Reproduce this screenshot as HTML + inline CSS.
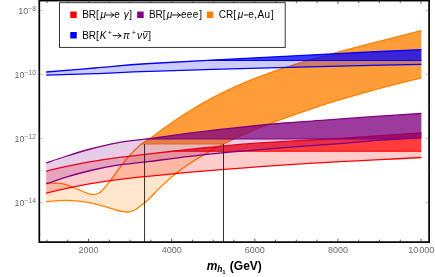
<!DOCTYPE html>
<html><head><meta charset="utf-8"><title>chart</title>
<style>
html,body{margin:0;padding:0;background:#fff;}
body{width:435px;height:277px;overflow:hidden;font-family:"Liberation Sans",sans-serif;}
svg{display:block;}
text{filter:grayscale(1);}
text{font-family:"Liberation Sans",sans-serif;}
.tl{font-size:9px;fill:#6a6a6a;}
.al{font-size:12px;font-weight:bold;fill:#000;}
.lg{font-size:10px;fill:#000;}
</style></head><body>
<svg width="435" height="277" viewBox="0 0 435 277">
<defs>
<clipPath id="c_orange"><rect x="0" y="0" width="435" height="144.00"/></clipPath>
<clipPath id="d_orange"><rect x="0" y="144.00" width="435" height="133.00"/></clipPath>
<clipPath id="c_purple"><rect x="0" y="0" width="435" height="139.00"/></clipPath>
<clipPath id="d_purple"><rect x="0" y="139.00" width="435" height="138.00"/></clipPath>
<clipPath id="c_red"><rect x="0" y="0" width="435" height="151.20"/></clipPath>
<clipPath id="d_red"><rect x="0" y="151.20" width="435" height="125.80"/></clipPath>
<clipPath id="c_blue"><rect x="0" y="0" width="435" height="60.40"/></clipPath>
<clipPath id="d_blue"><rect x="0" y="60.40" width="435" height="216.60"/></clipPath>
</defs>
<path d="M46.20 183.10 C47.83 183.13 52.82 183.08 56.00 183.30 C59.18 183.52 61.65 183.38 65.30 184.40 C68.95 185.42 74.45 188.00 77.90 189.40 C81.35 190.80 83.47 191.95 86.00 192.80 C88.53 193.65 91.10 194.38 93.10 194.50 C95.10 194.62 96.52 194.13 98.00 193.50 C99.48 192.87 100.28 192.43 102.00 190.70 C103.72 188.97 105.98 186.05 108.30 183.10 C110.62 180.15 113.38 176.37 115.90 173.00 C118.42 169.63 120.88 166.07 123.40 162.90 C125.92 159.73 128.47 156.75 131.00 154.00 C133.53 151.25 136.28 148.47 138.60 146.40 C140.92 144.33 143.00 142.92 144.90 141.60 C146.80 140.28 147.48 140.23 150.00 138.50 C152.52 136.77 155.83 134.20 160.00 131.20 C164.17 128.20 170.00 123.91 175.00 120.50 C180.00 117.09 184.17 114.28 190.00 110.72 C195.83 107.16 203.33 102.74 210.00 99.14 C216.67 95.54 222.50 92.58 230.00 89.13 C237.50 85.68 246.67 81.75 255.00 78.45 C263.33 75.16 270.83 72.45 280.00 69.36 C289.17 66.27 300.00 62.90 310.00 59.93 C320.00 56.96 330.00 54.24 340.00 51.53 C350.00 48.82 360.00 46.27 370.00 43.69 C380.00 41.10 391.43 38.22 400.00 36.02 C408.57 33.83 417.83 31.44 421.40 30.52 L421.40 77.90 C417.83 78.77 408.57 80.92 400.00 83.11 C391.43 85.30 380.00 88.25 370.00 91.02 C360.00 93.79 350.00 96.67 340.00 99.71 C330.00 102.75 320.00 105.91 310.00 109.26 C300.00 112.61 289.17 116.43 280.00 119.83 C270.83 123.23 263.33 126.17 255.00 129.67 C246.67 133.17 237.50 137.24 230.00 140.81 C222.50 144.38 216.67 147.36 210.00 151.11 C203.33 154.86 195.83 159.43 190.00 163.29 C184.17 167.15 180.00 170.22 175.00 174.27 C170.00 178.32 164.17 183.64 160.00 187.60 C155.83 191.56 152.72 195.37 150.00 198.00 C147.28 200.63 146.02 201.53 143.70 203.40 C141.38 205.27 138.22 207.88 136.10 209.20 C133.98 210.52 132.48 210.83 131.00 211.30 C129.52 211.77 128.53 211.95 127.20 212.00 C125.87 212.05 124.88 211.93 123.00 211.60 C121.12 211.27 119.20 210.90 115.90 210.00 C112.60 209.10 107.42 207.38 103.20 206.20 C98.98 205.02 94.82 203.75 90.60 202.90 C86.38 202.05 82.12 201.53 77.90 201.10 C73.68 200.67 70.58 200.22 65.30 200.30 C60.02 200.38 49.38 201.38 46.20 201.60 Z" fill="#ff8000" fill-opacity="0.2" stroke="none" clip-path="url(#d_orange)"/>
<path d="M46.20 183.10 C47.83 183.13 52.82 183.08 56.00 183.30 C59.18 183.52 61.65 183.38 65.30 184.40 C68.95 185.42 74.45 188.00 77.90 189.40 C81.35 190.80 83.47 191.95 86.00 192.80 C88.53 193.65 91.10 194.38 93.10 194.50 C95.10 194.62 96.52 194.13 98.00 193.50 C99.48 192.87 100.28 192.43 102.00 190.70 C103.72 188.97 105.98 186.05 108.30 183.10 C110.62 180.15 113.38 176.37 115.90 173.00 C118.42 169.63 120.88 166.07 123.40 162.90 C125.92 159.73 128.47 156.75 131.00 154.00 C133.53 151.25 136.28 148.47 138.60 146.40 C140.92 144.33 143.00 142.92 144.90 141.60 C146.80 140.28 147.48 140.23 150.00 138.50 C152.52 136.77 155.83 134.20 160.00 131.20 C164.17 128.20 170.00 123.91 175.00 120.50 C180.00 117.09 184.17 114.28 190.00 110.72 C195.83 107.16 203.33 102.74 210.00 99.14 C216.67 95.54 222.50 92.58 230.00 89.13 C237.50 85.68 246.67 81.75 255.00 78.45 C263.33 75.16 270.83 72.45 280.00 69.36 C289.17 66.27 300.00 62.90 310.00 59.93 C320.00 56.96 330.00 54.24 340.00 51.53 C350.00 48.82 360.00 46.27 370.00 43.69 C380.00 41.10 391.43 38.22 400.00 36.02 C408.57 33.83 417.83 31.44 421.40 30.52 L421.40 77.90 C417.83 78.77 408.57 80.92 400.00 83.11 C391.43 85.30 380.00 88.25 370.00 91.02 C360.00 93.79 350.00 96.67 340.00 99.71 C330.00 102.75 320.00 105.91 310.00 109.26 C300.00 112.61 289.17 116.43 280.00 119.83 C270.83 123.23 263.33 126.17 255.00 129.67 C246.67 133.17 237.50 137.24 230.00 140.81 C222.50 144.38 216.67 147.36 210.00 151.11 C203.33 154.86 195.83 159.43 190.00 163.29 C184.17 167.15 180.00 170.22 175.00 174.27 C170.00 178.32 164.17 183.64 160.00 187.60 C155.83 191.56 152.72 195.37 150.00 198.00 C147.28 200.63 146.02 201.53 143.70 203.40 C141.38 205.27 138.22 207.88 136.10 209.20 C133.98 210.52 132.48 210.83 131.00 211.30 C129.52 211.77 128.53 211.95 127.20 212.00 C125.87 212.05 124.88 211.93 123.00 211.60 C121.12 211.27 119.20 210.90 115.90 210.00 C112.60 209.10 107.42 207.38 103.20 206.20 C98.98 205.02 94.82 203.75 90.60 202.90 C86.38 202.05 82.12 201.53 77.90 201.10 C73.68 200.67 70.58 200.22 65.30 200.30 C60.02 200.38 49.38 201.38 46.20 201.60 Z" fill="#ff8000" fill-opacity="0.77" stroke="none" clip-path="url(#c_orange)"/>
<path d="M141.75 144.00H223.81" fill="none" stroke="#ff8000" stroke-width="1.04"/>
<path d="M46.20 183.10 C47.83 183.13 52.82 183.08 56.00 183.30 C59.18 183.52 61.65 183.38 65.30 184.40 C68.95 185.42 74.45 188.00 77.90 189.40 C81.35 190.80 83.47 191.95 86.00 192.80 C88.53 193.65 91.10 194.38 93.10 194.50 C95.10 194.62 96.52 194.13 98.00 193.50 C99.48 192.87 100.28 192.43 102.00 190.70 C103.72 188.97 105.98 186.05 108.30 183.10 C110.62 180.15 113.38 176.37 115.90 173.00 C118.42 169.63 120.88 166.07 123.40 162.90 C125.92 159.73 128.47 156.75 131.00 154.00 C133.53 151.25 136.28 148.47 138.60 146.40 C140.92 144.33 143.00 142.92 144.90 141.60 C146.80 140.28 147.48 140.23 150.00 138.50 C152.52 136.77 155.83 134.20 160.00 131.20 C164.17 128.20 170.00 123.91 175.00 120.50 C180.00 117.09 184.17 114.28 190.00 110.72 C195.83 107.16 203.33 102.74 210.00 99.14 C216.67 95.54 222.50 92.58 230.00 89.13 C237.50 85.68 246.67 81.75 255.00 78.45 C263.33 75.16 270.83 72.45 280.00 69.36 C289.17 66.27 300.00 62.90 310.00 59.93 C320.00 56.96 330.00 54.24 340.00 51.53 C350.00 48.82 360.00 46.27 370.00 43.69 C380.00 41.10 391.43 38.22 400.00 36.02 C408.57 33.83 417.83 31.44 421.40 30.52" fill="none" stroke="#ff8000" stroke-width="1.30"/>
<path d="M46.20 201.60 C49.38 201.38 60.02 200.38 65.30 200.30 C70.58 200.22 73.68 200.67 77.90 201.10 C82.12 201.53 86.38 202.05 90.60 202.90 C94.82 203.75 98.98 205.02 103.20 206.20 C107.42 207.38 112.60 209.10 115.90 210.00 C119.20 210.90 121.12 211.27 123.00 211.60 C124.88 211.93 125.87 212.05 127.20 212.00 C128.53 211.95 129.52 211.77 131.00 211.30 C132.48 210.83 133.98 210.52 136.10 209.20 C138.22 207.88 141.38 205.27 143.70 203.40 C146.02 201.53 147.28 200.63 150.00 198.00 C152.72 195.37 155.83 191.56 160.00 187.60 C164.17 183.64 170.00 178.32 175.00 174.27 C180.00 170.22 184.17 167.15 190.00 163.29 C195.83 159.43 203.33 154.86 210.00 151.11 C216.67 147.36 222.50 144.38 230.00 140.81 C237.50 137.24 246.67 133.17 255.00 129.67 C263.33 126.17 270.83 123.23 280.00 119.83 C289.17 116.43 300.00 112.61 310.00 109.26 C320.00 105.91 330.00 102.75 340.00 99.71 C350.00 96.67 360.00 93.79 370.00 91.02 C380.00 88.25 391.43 85.30 400.00 83.11 C408.57 80.92 417.83 78.77 421.40 77.90" fill="none" stroke="#ff8000" stroke-width="1.30"/>
<path d="M46.20 171.30 C49.38 170.53 57.90 168.32 65.30 166.70 C72.70 165.08 82.17 163.08 90.60 161.60 C99.03 160.12 107.48 158.92 115.90 157.80 C124.32 156.68 135.42 155.55 141.10 154.90 C146.78 154.25 143.52 154.65 150.00 153.90 C156.48 153.15 169.17 151.58 180.00 150.40 C190.83 149.22 203.33 147.92 215.00 146.80 C226.67 145.68 238.33 144.60 250.00 143.70 C261.67 142.80 270.00 142.30 285.00 141.40 C300.00 140.50 324.17 139.25 340.00 138.30 C355.83 137.35 366.43 136.62 380.00 135.70 C393.57 134.78 414.50 133.28 421.40 132.80 L421.40 157.50 C414.50 157.85 392.73 158.95 380.00 159.60 C367.27 160.25 357.50 160.73 345.00 161.40 C332.50 162.07 319.17 162.72 305.00 163.60 C290.83 164.48 275.00 165.62 260.00 166.70 C245.00 167.78 227.50 169.10 215.00 170.10 C202.50 171.10 195.83 171.68 185.00 172.70 C174.17 173.72 157.32 175.52 150.00 176.20 C142.68 176.88 146.78 176.20 141.10 176.80 C135.42 177.40 124.32 178.67 115.90 179.80 C107.48 180.93 99.03 182.12 90.60 183.60 C82.17 185.08 72.70 187.08 65.30 188.70 C57.90 190.32 49.38 192.53 46.20 193.30 Z" fill="#ff0000" fill-opacity="0.2" stroke="none" clip-path="url(#d_red)"/>
<path d="M46.20 171.30 C49.38 170.53 57.90 168.32 65.30 166.70 C72.70 165.08 82.17 163.08 90.60 161.60 C99.03 160.12 107.48 158.92 115.90 157.80 C124.32 156.68 135.42 155.55 141.10 154.90 C146.78 154.25 143.52 154.65 150.00 153.90 C156.48 153.15 169.17 151.58 180.00 150.40 C190.83 149.22 203.33 147.92 215.00 146.80 C226.67 145.68 238.33 144.60 250.00 143.70 C261.67 142.80 270.00 142.30 285.00 141.40 C300.00 140.50 324.17 139.25 340.00 138.30 C355.83 137.35 366.43 136.62 380.00 135.70 C393.57 134.78 414.50 133.28 421.40 132.80 L421.40 157.50 C414.50 157.85 392.73 158.95 380.00 159.60 C367.27 160.25 357.50 160.73 345.00 161.40 C332.50 162.07 319.17 162.72 305.00 163.60 C290.83 164.48 275.00 165.62 260.00 166.70 C245.00 167.78 227.50 169.10 215.00 170.10 C202.50 171.10 195.83 171.68 185.00 172.70 C174.17 173.72 157.32 175.52 150.00 176.20 C142.68 176.88 146.78 176.20 141.10 176.80 C135.42 177.40 124.32 178.67 115.90 179.80 C107.48 180.93 99.03 182.12 90.60 183.60 C82.17 185.08 72.70 187.08 65.30 188.70 C57.90 190.32 49.38 192.53 46.20 193.30 Z" fill="#ff0000" fill-opacity="0.77" stroke="none" clip-path="url(#c_red)"/>
<path d="M173.14 151.20H421.40" fill="none" stroke="#ff0000" stroke-width="1.04"/>
<path d="M46.20 171.30 C49.38 170.53 57.90 168.32 65.30 166.70 C72.70 165.08 82.17 163.08 90.60 161.60 C99.03 160.12 107.48 158.92 115.90 157.80 C124.32 156.68 135.42 155.55 141.10 154.90 C146.78 154.25 143.52 154.65 150.00 153.90 C156.48 153.15 169.17 151.58 180.00 150.40 C190.83 149.22 203.33 147.92 215.00 146.80 C226.67 145.68 238.33 144.60 250.00 143.70 C261.67 142.80 270.00 142.30 285.00 141.40 C300.00 140.50 324.17 139.25 340.00 138.30 C355.83 137.35 366.43 136.62 380.00 135.70 C393.57 134.78 414.50 133.28 421.40 132.80" fill="none" stroke="#ff0000" stroke-width="1.30"/>
<path d="M46.20 193.30 C49.38 192.53 57.90 190.32 65.30 188.70 C72.70 187.08 82.17 185.08 90.60 183.60 C99.03 182.12 107.48 180.93 115.90 179.80 C124.32 178.67 135.42 177.40 141.10 176.80 C146.78 176.20 142.68 176.88 150.00 176.20 C157.32 175.52 174.17 173.72 185.00 172.70 C195.83 171.68 202.50 171.10 215.00 170.10 C227.50 169.10 245.00 167.78 260.00 166.70 C275.00 165.62 290.83 164.48 305.00 163.60 C319.17 162.72 332.50 162.07 345.00 161.40 C357.50 160.73 367.27 160.25 380.00 159.60 C392.73 158.95 414.50 157.85 421.40 157.50" fill="none" stroke="#ff0000" stroke-width="1.30"/>
<path d="M46.20 162.90 C49.38 161.83 57.90 158.82 65.30 156.50 C72.70 154.18 82.17 151.23 90.60 149.00 C99.03 146.77 107.48 144.67 115.90 143.10 C124.32 141.53 135.42 140.35 141.10 139.60 C146.78 138.85 142.68 139.60 150.00 138.60 C157.32 137.60 171.67 135.30 185.00 133.60 C198.33 131.90 213.33 130.17 230.00 128.40 C246.67 126.63 269.17 124.37 285.00 123.00 C300.83 121.63 313.33 121.05 325.00 120.20 C336.67 119.35 345.83 118.57 355.00 117.90 C364.17 117.23 368.93 116.93 380.00 116.20 C391.07 115.47 414.50 113.95 421.40 113.50 L421.40 137.90 C414.50 138.27 393.57 139.15 380.00 140.10 C366.43 141.05 355.83 142.35 340.00 143.60 C324.17 144.85 303.33 146.17 285.00 147.60 C266.67 149.03 245.83 150.75 230.00 152.20 C214.17 153.65 203.33 154.77 190.00 156.30 C176.67 157.83 158.15 160.38 150.00 161.40 C141.85 162.42 146.78 161.73 141.10 162.40 C135.42 163.07 124.32 164.05 115.90 165.40 C107.48 166.75 99.03 168.52 90.60 170.50 C82.17 172.48 72.70 175.05 65.30 177.30 C57.90 179.55 49.38 182.88 46.20 184.00 Z" fill="#800080" fill-opacity="0.2" stroke="none" clip-path="url(#d_purple)"/>
<path d="M46.20 162.90 C49.38 161.83 57.90 158.82 65.30 156.50 C72.70 154.18 82.17 151.23 90.60 149.00 C99.03 146.77 107.48 144.67 115.90 143.10 C124.32 141.53 135.42 140.35 141.10 139.60 C146.78 138.85 142.68 139.60 150.00 138.60 C157.32 137.60 171.67 135.30 185.00 133.60 C198.33 131.90 213.33 130.17 230.00 128.40 C246.67 126.63 269.17 124.37 285.00 123.00 C300.83 121.63 313.33 121.05 325.00 120.20 C336.67 119.35 345.83 118.57 355.00 117.90 C364.17 117.23 368.93 116.93 380.00 116.20 C391.07 115.47 414.50 113.95 421.40 113.50 L421.40 137.90 C414.50 138.27 393.57 139.15 380.00 140.10 C366.43 141.05 355.83 142.35 340.00 143.60 C324.17 144.85 303.33 146.17 285.00 147.60 C266.67 149.03 245.83 150.75 230.00 152.20 C214.17 153.65 203.33 154.77 190.00 156.30 C176.67 157.83 158.15 160.38 150.00 161.40 C141.85 162.42 146.78 161.73 141.10 162.40 C135.42 163.07 124.32 164.05 115.90 165.40 C107.48 166.75 99.03 168.52 90.60 170.50 C82.17 172.48 72.70 175.05 65.30 177.30 C57.90 179.55 49.38 182.88 46.20 184.00 Z" fill="#800080" fill-opacity="0.77" stroke="none" clip-path="url(#c_purple)"/>
<path d="M146.44 139.00H400.70" fill="none" stroke="#800080" stroke-width="1.04"/>
<path d="M46.20 162.90 C49.38 161.83 57.90 158.82 65.30 156.50 C72.70 154.18 82.17 151.23 90.60 149.00 C99.03 146.77 107.48 144.67 115.90 143.10 C124.32 141.53 135.42 140.35 141.10 139.60 C146.78 138.85 142.68 139.60 150.00 138.60 C157.32 137.60 171.67 135.30 185.00 133.60 C198.33 131.90 213.33 130.17 230.00 128.40 C246.67 126.63 269.17 124.37 285.00 123.00 C300.83 121.63 313.33 121.05 325.00 120.20 C336.67 119.35 345.83 118.57 355.00 117.90 C364.17 117.23 368.93 116.93 380.00 116.20 C391.07 115.47 414.50 113.95 421.40 113.50" fill="none" stroke="#800080" stroke-width="1.30"/>
<path d="M46.20 184.00 C49.38 182.88 57.90 179.55 65.30 177.30 C72.70 175.05 82.17 172.48 90.60 170.50 C99.03 168.52 107.48 166.75 115.90 165.40 C124.32 164.05 135.42 163.07 141.10 162.40 C146.78 161.73 141.85 162.42 150.00 161.40 C158.15 160.38 176.67 157.83 190.00 156.30 C203.33 154.77 214.17 153.65 230.00 152.20 C245.83 150.75 266.67 149.03 285.00 147.60 C303.33 146.17 324.17 144.85 340.00 143.60 C355.83 142.35 366.43 141.05 380.00 140.10 C393.57 139.15 414.50 138.27 421.40 137.90" fill="none" stroke="#800080" stroke-width="1.30"/>
<path d="M46.20 72.00 C54.33 71.33 77.70 69.42 95.00 68.00 C112.30 66.58 122.50 65.23 150.00 63.50 C177.50 61.77 223.33 59.52 260.00 57.60 C296.67 55.68 343.10 53.33 370.00 52.00 C396.90 50.67 412.83 50.00 421.40 49.60 L421.40 64.40 C412.83 64.57 396.90 64.78 370.00 65.40 C343.10 66.02 296.67 67.10 260.00 68.10 C223.33 69.10 177.50 70.48 150.00 71.40 C122.50 72.32 112.30 72.98 95.00 73.60 C77.70 74.22 54.33 74.85 46.20 75.10 Z" fill="#0000ff" fill-opacity="0.2" stroke="none" clip-path="url(#d_blue)"/>
<path d="M46.20 72.00 C54.33 71.33 77.70 69.42 95.00 68.00 C112.30 66.58 122.50 65.23 150.00 63.50 C177.50 61.77 223.33 59.52 260.00 57.60 C296.67 55.68 343.10 53.33 370.00 52.00 C396.90 50.67 412.83 50.00 421.40 49.60 L421.40 64.40 C412.83 64.57 396.90 64.78 370.00 65.40 C343.10 66.02 296.67 67.10 260.00 68.10 C223.33 69.10 177.50 70.48 150.00 71.40 C122.50 72.32 112.30 72.98 95.00 73.60 C77.70 74.22 54.33 74.85 46.20 75.10 Z" fill="#0000ff" fill-opacity="0.77" stroke="none" clip-path="url(#c_blue)"/>
<path d="M207.80 60.40H421.40" fill="none" stroke="#0000ff" stroke-width="1.04"/>
<path d="M46.20 72.00 C54.33 71.33 77.70 69.42 95.00 68.00 C112.30 66.58 122.50 65.23 150.00 63.50 C177.50 61.77 223.33 59.52 260.00 57.60 C296.67 55.68 343.10 53.33 370.00 52.00 C396.90 50.67 412.83 50.00 421.40 49.60" fill="none" stroke="#0000ff" stroke-width="1.30"/>
<path d="M46.20 75.10 C54.33 74.85 77.70 74.22 95.00 73.60 C112.30 72.98 122.50 72.32 150.00 71.40 C177.50 70.48 223.33 69.10 260.00 68.10 C296.67 67.10 343.10 66.02 370.00 65.40 C396.90 64.78 412.83 64.57 421.40 64.40" fill="none" stroke="#0000ff" stroke-width="1.30"/>
<path d="M144.55 144V241.5 M223.5 144V241.5" stroke="#000" stroke-width="0.8" fill="none"/>
<rect x="39.30" y="0.60" width="389.80" height="241.50" fill="none" stroke="#000" stroke-width="1.7"/>
<path d="M47.00 241.30v-1.60 M47.00 1.40v1.60 M67.78 241.30v-1.60 M67.78 1.40v1.60 M88.56 241.30v-2.60 M88.56 1.40v2.60 M109.34 241.30v-1.60 M109.34 1.40v1.60 M130.12 241.30v-1.60 M130.12 1.40v1.60 M150.90 241.30v-1.60 M150.90 1.40v1.60 M171.68 241.30v-2.60 M171.68 1.40v2.60 M192.46 241.30v-1.60 M192.46 1.40v1.60 M213.24 241.30v-1.60 M213.24 1.40v1.60 M234.02 241.30v-1.60 M234.02 1.40v1.60 M254.80 241.30v-2.60 M254.80 1.40v2.60 M275.58 241.30v-1.60 M275.58 1.40v1.60 M296.36 241.30v-1.60 M296.36 1.40v1.60 M317.14 241.30v-1.60 M317.14 1.40v1.60 M337.92 241.30v-2.60 M337.92 1.40v2.60 M358.70 241.30v-1.60 M358.70 1.40v1.60 M379.48 241.30v-1.60 M379.48 1.40v1.60 M400.26 241.30v-1.60 M400.26 1.40v1.60 M421.04 241.30v-2.60 M421.04 1.40v2.60" stroke="#2a2a2a" stroke-width="0.8" fill="none"/>
<path d="M40.10 202.40h2.80 M428.30 202.40h-2.80 M40.10 138.40h2.80 M428.30 138.40h-2.80 M40.10 74.40h2.80 M428.30 74.40h-2.80 M40.10 10.40h2.80 M428.30 10.40h-2.80" stroke="#999" stroke-width="0.6" fill="none"/>
<path d="M40.10 234.40h1.60 M428.30 234.40h-1.60 M40.10 170.40h1.60 M428.30 170.40h-1.60 M40.10 106.40h1.60 M428.30 106.40h-1.60 M40.10 42.40h1.60 M428.30 42.40h-1.60" stroke="#bbb" stroke-width="0.6" fill="none"/>
<text x="88.56" y="252.8" text-anchor="middle" class="tl">2000</text>
<text x="171.68" y="252.8" text-anchor="middle" class="tl">4000</text>
<text x="254.80" y="252.8" text-anchor="middle" class="tl">6000</text>
<text x="337.92" y="252.8" text-anchor="middle" class="tl">8000</text>
<text x="421.34" y="252.8" text-anchor="middle" class="tl">10<tspan dx="1">000</tspan></text>
<text x="35.9" y="13.70" text-anchor="end" class="tl">10<tspan dy="-2.9" font-size="6.7">−8</tspan></text>
<text x="35.9" y="77.70" text-anchor="end" class="tl">10<tspan dy="-2.9" font-size="6.7">−10</tspan></text>
<text x="35.9" y="141.70" text-anchor="end" class="tl">10<tspan dy="-2.9" font-size="6.7">−12</tspan></text>
<text x="35.9" y="205.70" text-anchor="end" class="tl">10<tspan dy="-2.9" font-size="6.7">−14</tspan></text>
<text x="206.7" y="269.6" class="al"><tspan font-style="italic">m</tspan><tspan font-style="italic" font-size="8.5" dy="2.6">h</tspan><tspan font-size="6" dy="1.4" dx="-0.3">1</tspan></text>
<text x="229.8" y="269.6" class="al">(GeV)</text>
<rect x="59.5" y="2.7" width="225.7" height="44.7" fill="#fff" stroke="#222" stroke-width="0.9"/>
<rect x="70.25" y="11.55" width="6.5" height="6.5" fill="#ff0000"/>
<rect x="137.15" y="11.55" width="6.5" height="6.5" fill="#800080"/>
<rect x="206.85" y="11.55" width="6.5" height="6.5" fill="#ff8000"/>
<rect x="70.25" y="32.00" width="6.5" height="6.5" fill="#0000ff"/>
<text x="82.20" y="18.30" class="lg">BR[</text>
<text x="100.60" y="18.30" class="lg" font-style="italic">μ</text>
<path d="M106.00 15.00H113.60 M111.00 12.60Q112.30 14.50 113.90 15.00Q112.30 15.50 111.00 17.40" fill="none" stroke="#000" stroke-width="0.90" stroke-linecap="round"/>
<text x="114.20" y="18.30" class="lg">e</text>
<text x="123.80" y="18.30" class="lg" font-style="italic">γ</text>
<text x="129.30" y="18.30" class="lg">]</text>
<text x="148.90" y="18.30" class="lg">BR[</text>
<text x="166.70" y="18.30" class="lg" font-style="italic">μ</text>
<path d="M172.40 15.00H180.10 M177.50 12.60Q178.80 14.50 180.40 15.00Q178.80 15.50 177.50 17.40" fill="none" stroke="#000" stroke-width="0.90" stroke-linecap="round"/>
<text x="180.90" y="18.30" class="lg" letter-spacing="0.4">eee</text>
<text x="199.20" y="18.30" class="lg">]</text>
<text x="218.70" y="18.30" class="lg">CR[</text>
<text x="237.80" y="18.30" class="lg" font-style="italic">μ</text>
<path d="M243.9 15.00H247.9" stroke="#000" stroke-width="0.95"/>
<text x="248.20" y="18.30" class="lg">e</text>
<text x="254.20" y="18.30" class="lg">,</text>
<text x="257.60" y="18.30" class="lg">A</text>
<text x="264.60" y="18.30" class="lg">u</text>
<text x="271.00" y="18.30" class="lg">]</text>
<text x="82.20" y="39.00" class="lg">BR[</text>
<text x="99.80" y="39.00" class="lg" font-style="italic">K</text>
<text x="108.10" y="35.00" class="lg" style="font-size:6.5px">+</text>
<path d="M113.00 35.70H120.90 M118.30 33.30Q119.60 35.20 121.20 35.70Q119.60 36.20 118.30 38.10" fill="none" stroke="#000" stroke-width="0.90" stroke-linecap="round"/>
<text x="123.10" y="39.00" class="lg" font-style="italic">π</text>
<text x="131.90" y="35.00" class="lg" style="font-size:6.5px">+</text>
<text x="136.90" y="39.00" class="lg" font-style="italic">ν</text>
<text x="142.50" y="39.00" class="lg" font-style="italic">ν</text>
<path d="M143.6 31.60H148.4" stroke="#000" stroke-width="0.7"/>
<text x="148.30" y="39.00" class="lg">]</text>
</svg>
</body></html>
